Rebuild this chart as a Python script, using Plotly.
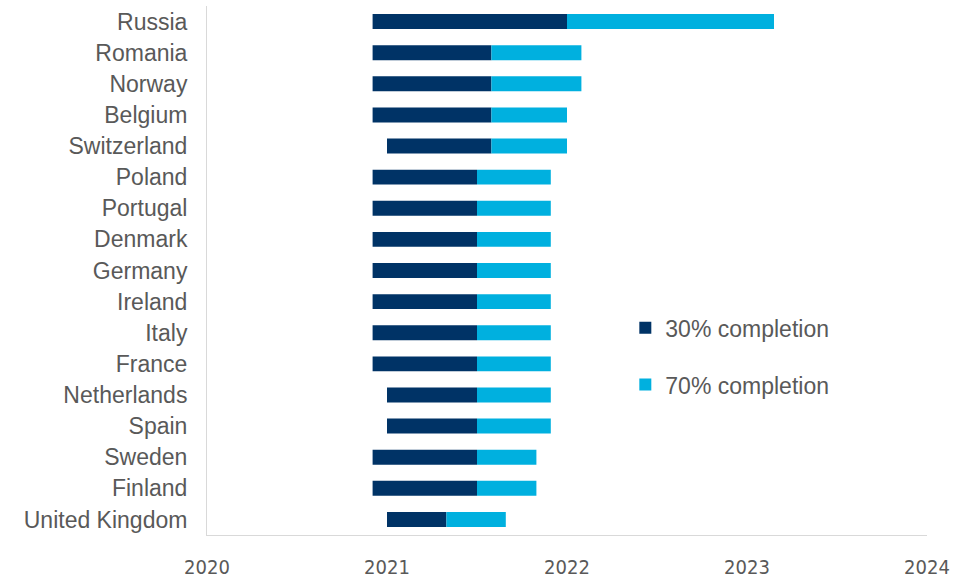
import plotly.graph_objects as go

# countries, top to bottom
countries = ["Russia", "Romania", "Norway", "Belgium", "Switzerland", "Poland",
             "Portugal", "Denmark", "Germany", "Ireland", "Italy", "France",
             "Netherlands", "Spain", "Sweden", "Finland", "United Kingdom"]

# decimal years
start = [2020.92, 2020.92, 2020.92, 2020.92, 2021.0, 2020.92,
         2020.92, 2020.92, 2020.92, 2020.92, 2020.92, 2020.92,
         2021.0, 2021.0, 2020.92, 2020.92, 2021.0]
done_30 = [2022.0, 2021.58, 2021.58, 2021.58, 2021.58, 2021.5,
           2021.5, 2021.5, 2021.5, 2021.5, 2021.5, 2021.5,
           2021.5, 2021.5, 2021.5, 2021.5, 2021.33]
done_70 = [2023.15, 2022.08, 2022.08, 2022.0, 2022.0, 2021.91,
           2021.91, 2021.91, 2021.91, 2021.91, 2021.91, 2021.91,
           2021.91, 2021.91, 2021.83, 2021.83, 2021.66]

years = [2020, 2021, 2022, 2023, 2024]

dark = "#003366"
light = "#00B0DF"
grey = "#595959"

fig = go.Figure()
fig.add_trace(go.Bar(
    y=countries, x=[b - a for a, b in zip(start, done_30)], base=start,
    orientation="h", name="30% completion", marker=dict(color=dark, line_width=0),
    width=0.48, legendgroup="a",
))
fig.add_trace(go.Bar(
    y=countries, x=[b - a for a, b in zip(done_30, done_70)], base=done_30,
    orientation="h", name="70% completion", marker=dict(color=light, line_width=0),
    width=0.48, legendgroup="b",
))

fig.update_layout(
    width=965, height=579,
    margin=dict(l=207, r=38, t=6, b=44),
    plot_bgcolor="white", paper_bgcolor="white",
    barmode="overlay",
    font=dict(family="Liberation Sans, Arial", color=grey, size=23),
    xaxis=dict(
        range=[2020, 2024], tickvals=years, ticktext=[str(y) for y in years],
        showgrid=False, zeroline=False, showline=True, linecolor="#D9D9D9", linewidth=1,
        tickfont=dict(family="DejaVu Sans Condensed, sans-serif", size=20, color=grey),
        ticklabelstandoff=14, automargin=False,
    ),
    yaxis=dict(
        autorange="reversed", showgrid=False, zeroline=False,
        showline=True, linecolor="#D9D9D9", linewidth=1,
        ticklabelstandoff=14, automargin=False,
    ),
    legend=dict(
        x=0.581, y=0.338, xanchor="left", yanchor="middle",
        tracegroupgap=24, font=dict(size=23, color=grey),
        bgcolor="rgba(0,0,0,0)",
    ),
)

# page body has an 8px default margin; drop it so the figure fills the window
fig.write_html("out.html", config={"displayModeBar": False},
               post_script="document.body.style.margin='0';")
